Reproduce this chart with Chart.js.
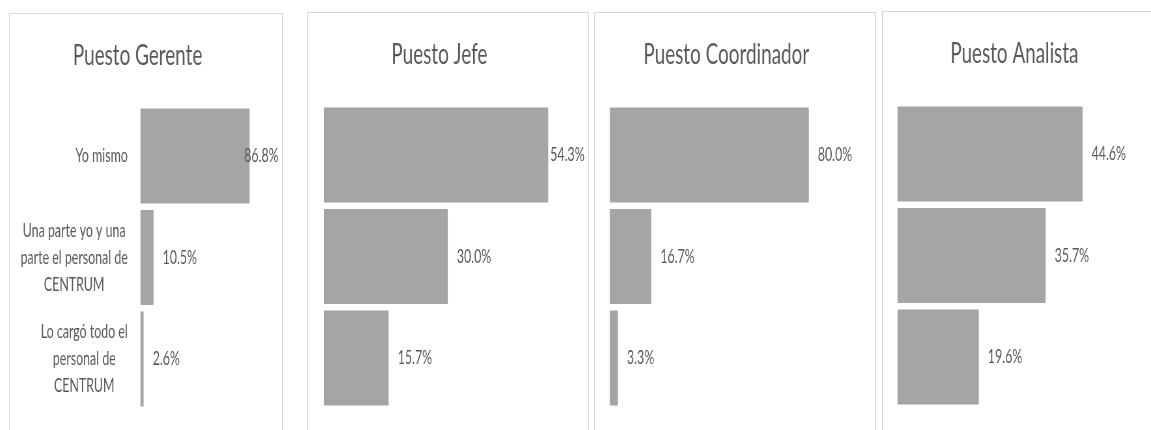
<!DOCTYPE html>
<html>
<head>
<meta charset="utf-8">
<script src="https://cdn.jsdelivr.net/npm/chart.js@4.4.1/dist/chart.umd.min.js"></script>
<style>
  html, body { margin: 0; padding: 0; background: #ffffff; }
  body { width: 1151px; height: 430px; position: relative; overflow: hidden; }
  .panel { position: absolute; box-sizing: border-box; border: 1px solid #d9d9d9; border-bottom: none; }
  .inner { position: absolute; left: -1px; top: -1px; transform-origin: 0 0; }
</style>
</head>
<body>
<script>
// Categories (multi-line labels) and the share of each answer per job level
const categories = [
  ["Yo mismo"],
  ["Una parte yo y una", "parte el personal de", "CENTRUM"],
  ["Lo cargó todo el", "personal de", "CENTRUM"]
];
const titles = ["Puesto Gerente", "Puesto Jefe", "Puesto Coordinador", "Puesto Analista"];
const gerente = [86.8, 10.5, 2.6];
const jefe = [54.3, 30.0, 15.7];
const coordinador = [80.0, 16.7, 3.3];
const analista = [44.6, 35.7, 19.6];
const axisMax = [100, 60, 100, 60];

const seriesList = [gerente, jefe, coordinador, analista];

// Condensed look: every panel is drawn wide and squeezed horizontally
const SQUEEZE = 0.65;
const FONT = "Lato, 'Open Sans', sans-serif";
const TEXT = "#595959";
const BAR = "#a5a5a5";

// Panel frames on the page (left, top, width) and plot-area edges inside each
const frames = [
  { left: 9,   top: 13, width: 274, plotLeft: 131,  plotRight: 256.6, showLabels: true },
  { left: 307, top: 12, width: 282, plotLeft: 16.7, plotRight: 264.2, showLabels: false },
  { left: 594, top: 12, width: 282, plotLeft: 15.7, plotRight: 264,   showLabels: false },
  { left: 882, top: 11, width: 282, plotLeft: 15.3, plotRight: 264,   showLabels: false }
];
const PLOT_TOP = 92.25, PLOT_BOTTOM = 396.75, TITLE_MID = 43, TITLE_SIZE = 29, LABEL_SIZE = 19;

// Value labels placed just past the bar end, kept inside the panel
const valueLabels = {
  id: 'valueLabels',
  afterDatasetsDraw(chart) {
    const ctx = chart.ctx;
    const meta = chart.getDatasetMeta(0);
    const data = chart.data.datasets[0].data;
    const gap = 9 / SQUEEZE;
    const limit = chart.width - 5 / SQUEEZE;
    ctx.save();
    ctx.font = LABEL_SIZE + "px " + FONT;
    ctx.fillStyle = TEXT;
    ctx.textBaseline = 'middle';
    ctx.textAlign = 'left';
    meta.data.forEach((bar, i) => {
      const txt = data[i].toFixed(1) + '%';
      const w = ctx.measureText(txt).width;
      let x = bar.x + gap;
      if (x + w > limit) x = limit - w;
      ctx.fillText(txt, x, bar.y);
    });
    ctx.restore();
  }
};

// Category labels: each block centred on itself, blocks right-aligned to the axis
const blockLabels = {
  id: 'blockLabels',
  afterDraw(chart, args, opts) {
    if (!opts.show) return;
    const ctx = chart.ctx;
    const yScale = chart.scales.y;
    const right = chart.chartArea.left - 12.5 / SQUEEZE;
    const lh = 27;
    ctx.save();
    ctx.font = LABEL_SIZE + "px " + FONT;
    ctx.fillStyle = TEXT;
    ctx.textBaseline = 'middle';
    ctx.textAlign = 'center';
    chart.data.labels.forEach((lines, i) => {
      const yc = yScale.getPixelForTick(i);
      const widest = Math.max(...lines.map(s => ctx.measureText(s).width));
      const cx = right - widest / 2;
      const y0 = yc - (lines.length - 1) * lh / 2;
      lines.forEach((s, j) => ctx.fillText(s, cx, y0 + j * lh));
    });
    ctx.restore();
  }
};

frames.forEach((f, idx) => {
  const h = 430 - f.top;
  const panel = document.createElement('div');
  panel.className = 'panel';
  panel.style.left = f.left + 'px';
  panel.style.top = f.top + 'px';
  panel.style.width = f.width + 'px';
  panel.style.height = h + 'px';
  const inner = document.createElement('div');
  inner.className = 'inner';
  inner.style.width = (f.width / SQUEEZE) + 'px';
  inner.style.height = h + 'px';
  inner.style.transform = 'scaleX(' + SQUEEZE + ')';
  const canvas = document.createElement('canvas');
  inner.appendChild(canvas);
  panel.appendChild(inner);
  document.body.appendChild(panel);

  const titlePadTop = TITLE_MID - TITLE_SIZE * 1.2 / 2;
  const titlePadBottom = PLOT_TOP - titlePadTop - TITLE_SIZE * 1.2;

  new Chart(canvas, {
    type: 'bar',
    data: {
      labels: categories,
      datasets: [{
        data: seriesList[idx],
        backgroundColor: BAR,
        borderWidth: 0,
        categoryPercentage: 1,
        barPercentage: 0.936
      }]
    },
    options: {
      indexAxis: 'y',
      responsive: true,
      maintainAspectRatio: false,
      animation: false,
      events: [],
      layout: {
        padding: {
          left: 0,
          right: (f.width - f.plotRight) / SQUEEZE,
          top: 0,
          bottom: h - PLOT_BOTTOM
        }
      },
      scales: {
        x: { display: false, min: 0, max: axisMax[idx] },
        y: {
          display: true,
          grid: { display: false },
          border: { display: false },
          ticks: { display: false },
          afterFit(scale) { scale.width = f.plotLeft / SQUEEZE; }
        }
      },
      plugins: {
        legend: { display: false },
        tooltip: { enabled: false },
        title: {
          display: true,
          text: titles[idx],
          color: TEXT,
          font: { family: FONT, size: TITLE_SIZE, weight: 'normal', lineHeight: 1.2 },
          padding: { top: titlePadTop, bottom: titlePadBottom }
        },
        blockLabels: { show: f.showLabels }
      }
    },
    plugins: [valueLabels, blockLabels]
  });
});
</script>
</body>
</html>
